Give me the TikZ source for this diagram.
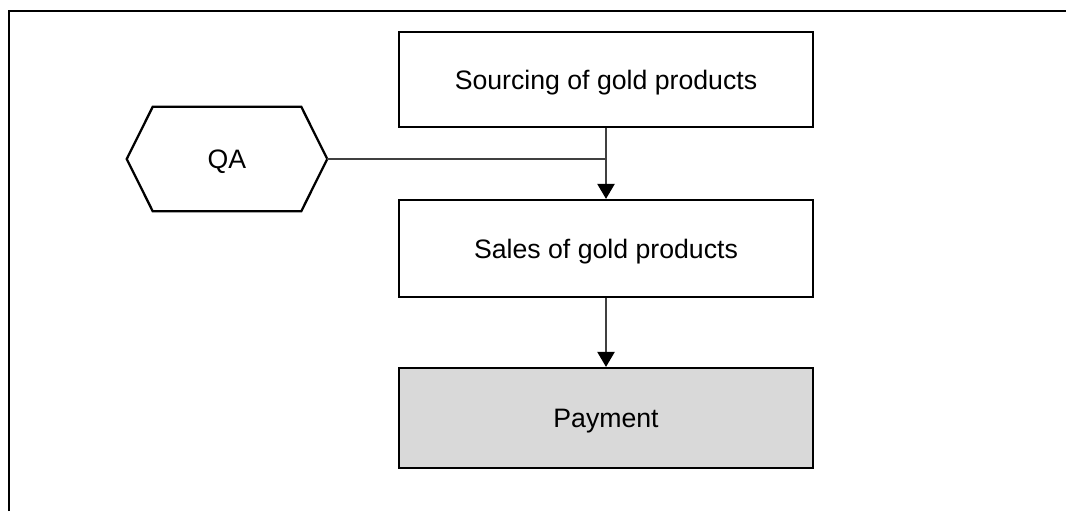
\documentclass[tikz,border=0pt]{standalone}
\usepackage{fontspec}
\setmainfont{Liberation Sans}
\usetikzlibrary{arrows.meta,calc}
\definecolor{conncol}{HTML}{404040}
\definecolor{payfill}{HTML}{D9D9D9}
\begin{document}
\begin{tikzpicture}[x=0.75pt,y=-0.75pt,
  every node/.style={font=\fontsize{20}{24}\selectfont,text height=14.3pt,text depth=0pt},
  procbox/.style={draw=black,line width=1.7pt,minimum width=310.5pt,inner sep=0pt},
  conn/.style={draw=conncol,line width=1pt},
  arr/.style={conn,-{Triangle[length=11.25pt,width=13pt,fill=black,color=black]}},
  frame/.style={draw=black,line width=1.6pt}]
\useasboundingbox (0,0) rectangle (1066,511);
% frame
\draw[frame] (9,511) -- (9,11) -- (1066,11);
% boxes
\node[procbox,minimum height=71.25pt] (src) at (606,79.5) {Sourcing of gold products};
\node[procbox,minimum height=72.75pt] (sales) at (606,248.5) {Sales of gold products};
\node[procbox,minimum height=75pt,fill=payfill] (pay) at (606,418) {Payment};
% QA hexagon
\node[minimum width=150pt,minimum height=78pt,inner sep=0pt] (qa) at (227,159) {QA};
\draw[line width=1.7pt,line join=miter]
  (qa.west) -- ($(qa.north west)+(26,0)$) -- ($(qa.north east)+(-26,0)$)
  -- (qa.east) -- ($(qa.south east)+(-26,0)$) -- ($(qa.south west)+(26,0)$) -- cycle;
% connectors
\draw[arr] (src.south) -- (sales.north);
\draw[conn] (qa.east) -- (qa.east -| src.south);
\draw[arr] (sales.south) -- (pay.north);
\end{tikzpicture}
\end{document}
